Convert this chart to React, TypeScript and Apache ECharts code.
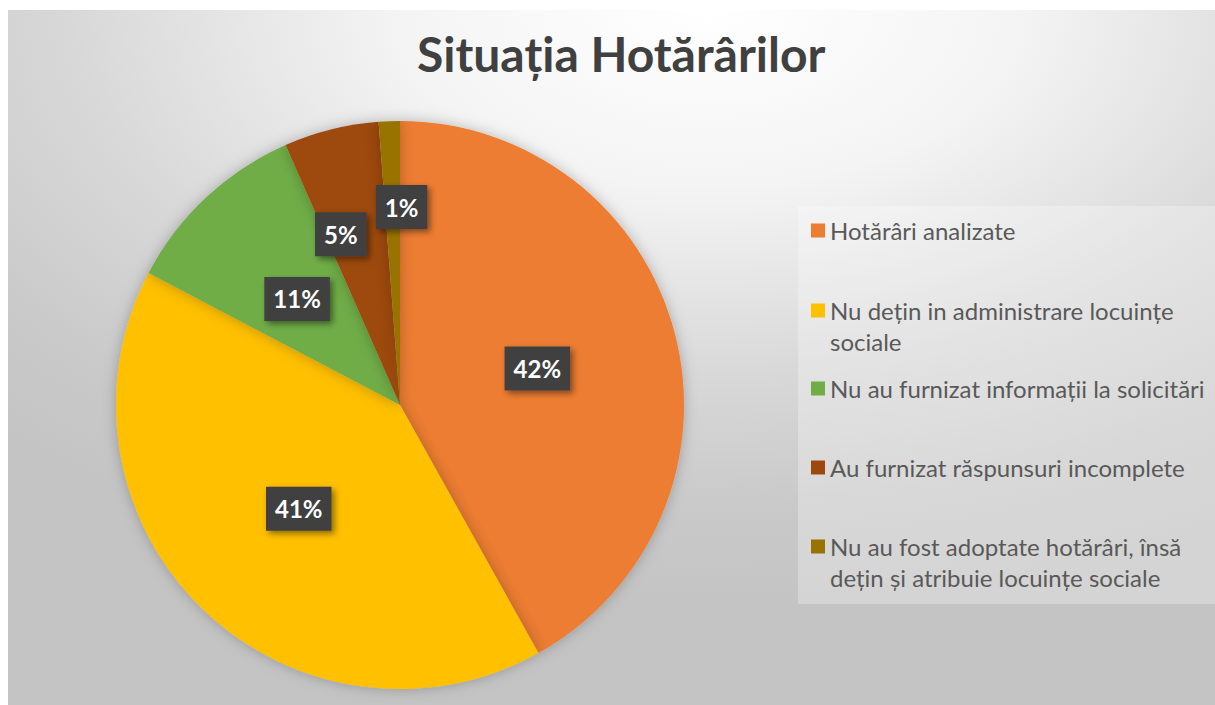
import React, { useEffect, useRef } from "react";
import * as echarts from "echarts";

const categories = [
  "Hotărâri analizate",
  "Nu dețin in administrare locuințe sociale",
  "Nu au furnizat informații la solicitări",
  "Au furnizat răspunsuri incomplete",
  "Nu au fost adoptate hotărâri, însă dețin și atribuie locuințe sociale",
];
const legendLines = [
  "Hotărâri analizate",
  "Nu dețin in administrare locuințe\nsociale",
  "Nu au furnizat informații la solicitări",
  "Au furnizat răspunsuri incomplete",
  "Nu au fost adoptate hotărâri, însă\ndețin și atribuie locuințe sociale",
];
const percents = [41.9, 40.8, 10.7, 5.4, 1.2];
const colors = ["#ED7D31", "#FFC000", "#70AD47", "#9E480E", "#997300"];
const legendTops = [205, 254, 363, 442, 490];
const labelNudge = [
  [-3, 0],
  [0, 0],
  [-4, 0],
  [-24, -30],
  [7, -53],
];

export default function App() {
  const ref = useRef<HTMLDivElement>(null);
  useEffect(() => {
    const chart = echarts.init(ref.current!, null, { renderer: "svg" });
    const font = "Lato, 'Open Sans', sans-serif";
    const legends = categories.map((name, i) => {
      const twoLine = legendLines[i].includes("\n");
      return {
        data: [name],
        orient: "vertical",
        left: 803,
        top: legendTops[i],
        padding: 0,
        itemWidth: 14,
        itemHeight: 14,
        itemGap: 0,
        icon: "rect",
        selectedMode: false,
        formatter: () => (twoLine ? "\n" + legendLines[i] : legendLines[i]),
        textStyle: {
          fontFamily: font,
          fontSize: 24,
          color: "#595959",
          lineHeight: 31,
        },
      };
    });
    chart.setOption({
      animation: false,
      backgroundColor: new echarts.graphic.RadialGradient(0.58, 0, 0.85, [
        { offset: 0, color: "#ffffff" },
        { offset: 0.3, color: "#f4f4f4" },
        { offset: 0.62, color: "#d8d8d8" },
        { offset: 0.85, color: "#c9c9c9" },
        { offset: 1, color: "#c4c4c4" },
      ]),
      title: {
        text: "Situația Hotărârilor",
        left: 404,
        top: 14,
        textStyle: {
          fontFamily: font,
          fontSize: 48,
          fontWeight: "bold",
          color: "#404040",
        },
      },
      graphic: [
        {
          type: "rect",
          shape: { x: 790, y: 196, width: 417, height: 398 },
          style: { fill: "rgba(255,255,255,0.28)" },
          z: -1,
          silent: true,
        },
      ],
      legend: legends,
      series: [
        {
          type: "pie",
          center: [392, 395],
          radius: [0, 284],
          startAngle: 90,
          clockwise: true,
          avoidLabelOverlap: false,
          itemStyle: {
            shadowBlur: 14,
            shadowColor: "rgba(0,0,0,0.25)",
          },
          emphasis: { disabled: true },
          label: {
            show: true,
            position: "inside",
            rotate: 0,
            formatter: (p: any) => Math.round(p.percent) + "%",
            fontFamily: font,
            fontSize: 24,
            fontWeight: "bold",
            color: "#ffffff",
            lineHeight: 24,
            backgroundColor: "#404040",
            padding: [10, 9],
            shadowBlur: 6,
            shadowColor: "rgba(0,0,0,0.45)",
            shadowOffsetX: 3,
            shadowOffsetY: 3,
          },
          labelLine: { show: false },
          labelLayout: (params: any) => {
            const n = labelNudge[params.dataIndex] || [0, 0];
            return { dx: n[0], dy: n[1] };
          },
          data: categories.map((name, i) => ({
            name,
            value: percents[i],
            itemStyle: { color: colors[i] },
          })),
        },
      ],
    });
    return () => chart.dispose();
  }, []);
  return (
    <div
      ref={ref}
      style={{ position: "absolute", left: 8, top: 10, width: 1207, height: 695 }}
    />
  );
}
